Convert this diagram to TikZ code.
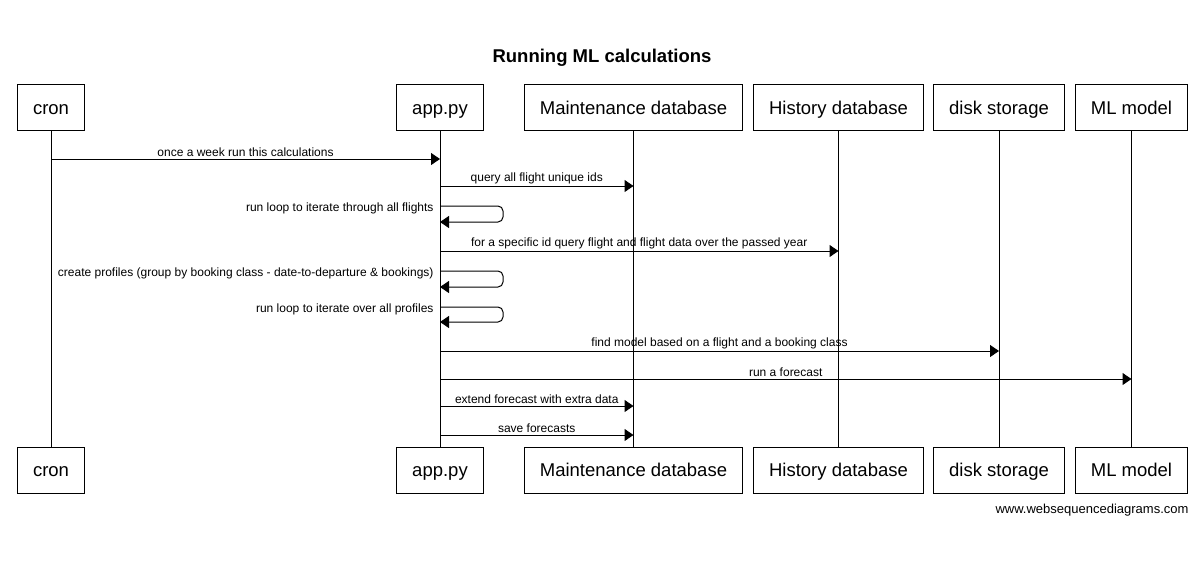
\documentclass[tikz,border=0pt]{standalone}
\usepackage{fontspec}
\setmainfont{Liberation Sans}
\usetikzlibrary{arrows.meta}

\tikzset{
    actor/.style={draw, line width=1pt, minimum height=46pt, inner xsep=15.5pt, text height=14pt, text depth=1pt, font=\fontsize{18.5}{22}\selectfont},
    msg/.style={line width=1pt, -{Triangle[length=9pt,width=12pt]}},
    msglabel/.style={font=\fontsize{12}{14}\selectfont, inner sep=1pt},
    looplabel/.style={msglabel, left=5pt, yshift=-2pt},
}

\begin{document}
\begin{tikzpicture}[x=1pt, y=-1pt]

    \useasboundingbox (0,0) rectangle (1203,571);

    \node (title) [font=\bfseries\fontsize{18.5}{22}\selectfont] at (602,58) {Running ML calculations};

    \foreach \name/\xpos/\txt in {cron/51/cron, app/440/app.py, maint/633.5/Maintenance database, hist/838.5/History database, disk/999/disk storage, ml/1131.5/ML model} {
        \node (\name T) [actor] at (\xpos,107.5) {\txt};
        \node (\name B) [actor] at (\xpos,470) {\txt};
        \draw[line width=1pt] (\name T) -- (\name B);
    }

    \draw[msg] (cronT |- 0,159) -- node[msglabel, above=1pt] {once a week run this calculations} (appT |- 0,159);
    \draw[msg] (appT |- 0,186) -- node[msglabel, above=1pt] {query all flight unique ids} (maintT |- 0,186);

    \draw[msg, rounded corners=5pt] (appT |- 0,206) node[looplabel] {run loop to iterate through all flights}
        -- (503,206) -- (503,222) -- (appT |- 0,222);

    \draw[msg] (appT |- 0,251) -- node[msglabel, above=1pt] {for a specific id query flight and flight data over the passed year} (histT |- 0,251);

    \draw[msg, rounded corners=5pt] (appT |- 0,271) node[looplabel] {create profiles (group by booking class - date-to-departure \& bookings)}
        -- (503,271) -- (503,287) -- (appT |- 0,287);
    \draw[msg, rounded corners=5pt] (appT |- 0,307) node[looplabel] {run loop to iterate over all profiles}
        -- (503,307) -- (503,322) -- (appT |- 0,322);

    \draw[msg] (appT |- 0,351) -- node[msglabel, above=1pt] {find model based on a flight and a booking class} (diskT |- 0,351);
    \draw[msg] (appT |- 0,379) -- node[msglabel, above=1pt] {run a forecast} (mlT |- 0,379);
    \draw[msg] (appT |- 0,406) -- node[msglabel, above=1pt] {extend forecast with extra data} (maintT |- 0,406);
    \draw[msg] (appT |- 0,435) -- node[msglabel, above=1pt] {save forecasts} (maintT |- 0,435);

    \node (footer) [font=\fontsize{13}{15}\selectfont, anchor=east] at (1192,510) {www.websequencediagrams.com};

\end{tikzpicture}
\end{document}
